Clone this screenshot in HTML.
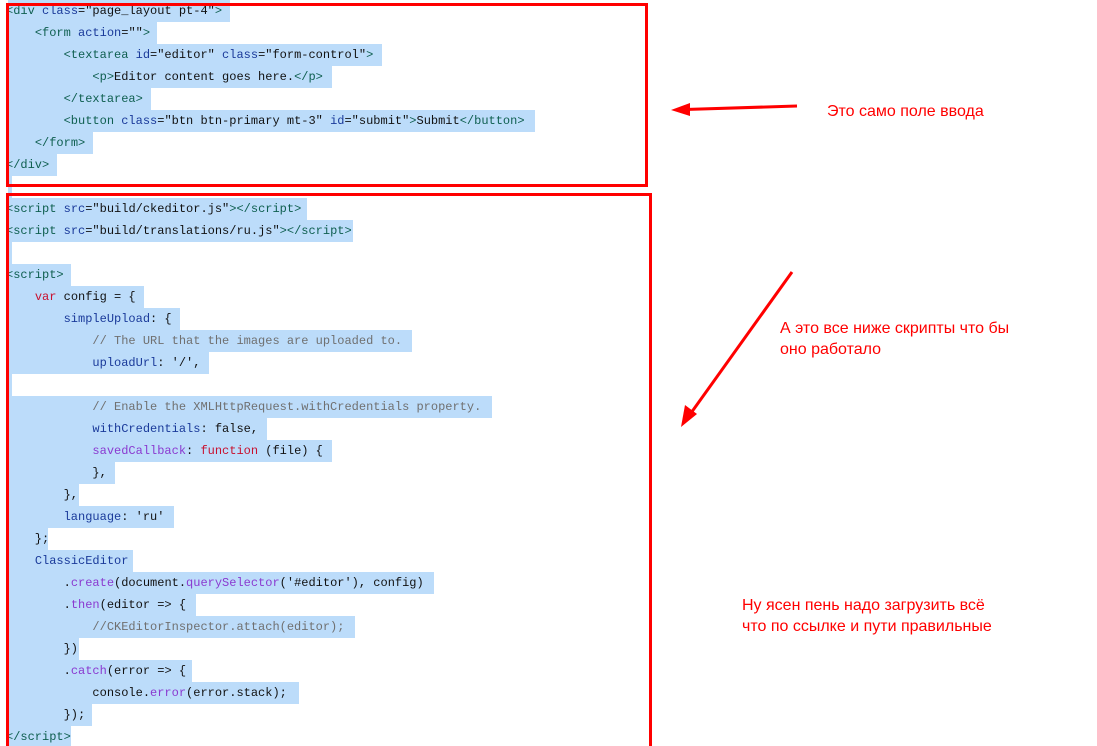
<!DOCTYPE html>
<html><head><meta charset="utf-8"><style>
html,body{margin:0;width:1097px;height:746px;overflow:hidden}
body{background:#fff;position:relative;font-family:"Liberation Mono",monospace;}
.l{position:absolute;left:8px;height:22px;line-height:22px;background:#bcdcfa;font-size:12px;white-space:pre;color:#111;}
.l span.i{position:relative;left:-2px}
.t{color:#0f5f50}.a{color:#1a3a9a}.k{color:#c8102e}.p{color:#1a3a9a}.c{color:#707070}.m{color:#8a3ad0}
.box{position:absolute;border:3px solid #f00;box-sizing:border-box}
.note{position:absolute;color:#f00;font-family:"Liberation Sans",sans-serif;font-size:16px;line-height:21px}
</style></head><body>
<div class="l" style="top:0;width:222px"><span class="i"><span class="t">&lt;div</span> <span class="a">class</span>="page_layout pt-4"<span class="t">&gt;</span></span></div>
<div class="l" style="top:22px;width:149px"><span class="i">    <span class="t">&lt;form</span> <span class="a">action</span>=""<span class="t">&gt;</span></span></div>
<div class="l" style="top:44px;width:374px"><span class="i">        <span class="t">&lt;textarea</span> <span class="a">id</span>="editor" <span class="a">class</span>="form-control"<span class="t">&gt;</span></span></div>
<div class="l" style="top:66px;width:324px"><span class="i">            <span class="t">&lt;p&gt;</span>Editor content goes here.<span class="t">&lt;/p&gt;</span></span></div>
<div class="l" style="top:88px;width:143px"><span class="i">        <span class="t">&lt;/textarea&gt;</span></span></div>
<div class="l" style="top:110px;width:527px"><span class="i">        <span class="t">&lt;button</span> <span class="a">class</span>="btn btn-primary mt-3" <span class="a">id</span>="submit"<span class="t">&gt;</span>Submit<span class="t">&lt;/button&gt;</span></span></div>
<div class="l" style="top:132px;width:85px"><span class="i">    <span class="t">&lt;/form&gt;</span></span></div>
<div class="l" style="top:154px;width:49px"><span class="i"><span class="t">&lt;/div&gt;</span></span></div>
<div class="l" style="top:176px;width:4px"></div>
<div class="l" style="top:198px;width:299px"><span class="i"><span class="t">&lt;script</span> <span class="a">src</span>="build/ckeditor.js"<span class="t">&gt;&lt;/script&gt;</span></span></div>
<div class="l" style="top:220px;width:345px"><span class="i"><span class="t">&lt;script</span> <span class="a">src</span>="build/translations/ru.js"<span class="t">&gt;&lt;/script&gt;</span></span></div>
<div class="l" style="top:242px;width:4px"></div>
<div class="l" style="top:264px;width:63px"><span class="i"><span class="t">&lt;script&gt;</span></span></div>
<div class="l" style="top:286px;width:136px"><span class="i">    <span class="k">var</span> config = {</span></div>
<div class="l" style="top:308px;width:172px"><span class="i">        <span class="p">simpleUpload</span>: {</span></div>
<div class="l" style="top:330px;width:404px"><span class="i">            <span class="c">// The URL that the images are uploaded to.</span></span></div>
<div class="l" style="top:352px;width:201px"><span class="i">            <span class="p">uploadUrl</span>: '/',</span></div>
<div class="l" style="top:374px;width:4px"></div>
<div class="l" style="top:396px;width:484px"><span class="i">            <span class="c">// Enable the XMLHttpRequest.withCredentials property.</span></span></div>
<div class="l" style="top:418px;width:259px"><span class="i">            <span class="p">withCredentials</span>: false,</span></div>
<div class="l" style="top:440px;width:324px"><span class="i">            <span class="m">savedCallback</span>: <span class="k">function</span> (file) {</span></div>
<div class="l" style="top:462px;width:107px"><span class="i">            },</span></div>
<div class="l" style="top:484px;width:71px"><span class="i">        },</span></div>
<div class="l" style="top:506px;width:166px"><span class="i">        <span class="p">language</span>: 'ru'</span></div>
<div class="l" style="top:528px;width:40px"><span class="i">    };</span></div>
<div class="l" style="top:550px;width:125px"><span class="i">    <span class="p">ClassicEditor</span></span></div>
<div class="l" style="top:572px;width:426px"><span class="i">        .<span class="m">create</span>(document.<span class="m">querySelector</span>('#editor'), config)</span></div>
<div class="l" style="top:594px;width:188px"><span class="i">        .<span class="m">then</span>(editor =&gt; {</span></div>
<div class="l" style="top:616px;width:347px"><span class="i">            <span class="c">//CKEditorInspector.attach(editor);</span></span></div>
<div class="l" style="top:638px;width:71px"><span class="i">        })</span></div>
<div class="l" style="top:660px;width:184px"><span class="i">        .<span class="m">catch</span>(error =&gt; {</span></div>
<div class="l" style="top:682px;width:291px"><span class="i">            console.<span class="m">error</span>(error.stack);</span></div>
<div class="l" style="top:704px;width:84px"><span class="i">        });</span></div>
<div class="l" style="top:726px;width:63px;height:20px"><span class="i"><span class="t">&lt;/script&gt;</span></span></div>

<div class="box" style="left:6px;top:3px;width:642px;height:184px"></div>
<div class="box" style="left:6px;top:193px;width:646px;height:553px;border-bottom:none"></div>

<svg style="position:absolute;left:0;top:0" width="1097" height="746">
<line x1="797" y1="106" x2="685" y2="109.5" stroke="#f00" stroke-width="3"/>
<polygon points="671,110 690,103 690,116" fill="#f00"/>
<line x1="792" y1="272" x2="691" y2="413" stroke="#f00" stroke-width="3"/>
<polygon points="681,427 685,405 697,414" fill="#f00"/>
</svg>
<div class="note" style="left:827px;top:101px">Это само поле ввода</div>
<div class="note" style="left:780px;top:318px">А это все ниже скрипты что бы<br>оно работало</div>
<div class="note" style="left:742px;top:595px">Ну ясен пень надо загрузить всё<br>что по ссылке и пути правильные</div>
</body></html>
